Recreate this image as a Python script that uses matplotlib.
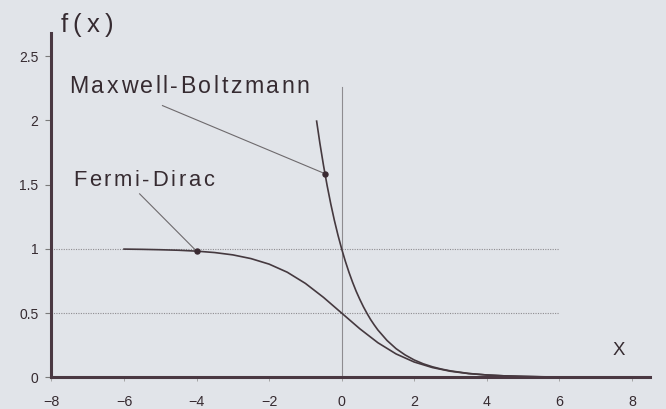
import matplotlib
matplotlib.use("Agg")
import matplotlib.pyplot as plt
from matplotlib.font_manager import FontProperties
from matplotlib.transforms import offset_copy

# Fermi-Dirac occupation f(x) = 1 / (1 + e^x)
fd_x = [-6.0, -5.5, -5.0, -4.5, -4.0, -3.5, -3.0, -2.5, -2.0, -1.5, -1.0, -0.5,
        0.0, 0.5, 1.0, 1.5, 2.0, 2.5, 3.0, 3.5, 4.0, 4.5, 5.0, 5.5, 6.0, 6.5,
        7.0, 7.5, 8.0]
fd_y = [0.998, 0.996, 0.993, 0.989, 0.982, 0.971, 0.953, 0.924, 0.881, 0.818,
        0.731, 0.622, 0.500, 0.378, 0.269, 0.182, 0.119, 0.076, 0.047, 0.029,
        0.018, 0.011, 0.007, 0.004, 0.002, 0.0015, 0.0009, 0.0006, 0.0003]

# Maxwell-Boltzmann occupation f(x) = e^-x
mb_x = [-0.69, -0.6, -0.5, -0.4, -0.3, -0.2, -0.1, 0.0, 0.1, 0.2, 0.3, 0.4,
        0.5, 0.6, 0.7, 0.8, 0.9, 1.0, 1.25, 1.5, 1.75, 2.0, 2.25, 2.5, 2.75,
        3.0, 3.5, 4.0, 4.5, 5.0, 5.5, 6.0, 6.5, 7.0, 7.5, 8.0]
mb_y = [1.994, 1.822, 1.649, 1.492, 1.350, 1.221, 1.105, 1.000, 0.905, 0.819,
        0.741, 0.670, 0.607, 0.549, 0.497, 0.449, 0.407, 0.368, 0.287, 0.223,
        0.174, 0.135, 0.105, 0.082, 0.064, 0.050, 0.030, 0.018, 0.011, 0.007,
        0.004, 0.0025, 0.0015, 0.0009, 0.0006, 0.0003]

# labelled points and where their captions sit
mb_point = (-0.46, 1.585)
fd_point = (-4.0, 0.982)
mb_label = "Maxwell-Boltzmann"
fd_label = "Fermi-Dirac"
mb_label_pos = (-7.50, 2.214)
fd_label_pos = (-7.41, 1.486)
mb_leader_start = (-4.94, 2.115)
fd_leader_start = (-5.57, 1.428)

x_ticks = [-8, -6, -4, -2, 0, 2, 4, 6, 8]
y_ticks = [0, 0.5, 1, 1.5, 2, 2.5]
y_tick_labels = ["0", "0.5", "1", "1.5", "2", "2.5"]
ref_levels = [0.5, 1.0]

BG = "#e1e4e9"
INK = "#362b31"
AXIS = "#4a3842"
GUIDE = "#8e8c90"
CURVE = "#45393f"
FONT = "Liberation Sans"
DPI = 100

fig = plt.figure(figsize=(6.66, 4.09), dpi=DPI, facecolor=BG)
ax = fig.add_axes([0.0773, 0.0775, 0.8986, 0.8418], facecolor=BG)
ax.set_xlim(-8, 8.5)
ax.set_ylim(0, 2.68)

for s in ("top", "right"):
    ax.spines[s].set_visible(False)
for s in ("left", "bottom"):
    ax.spines[s].set_linewidth(2.2)
    ax.spines[s].set_color(AXIS)
    ax.spines[s].set_zorder(5)

ax.set_xticks(x_ticks)
ax.set_yticks(y_ticks)
ax.set_xticklabels([str(t).replace("-", "\u2212") for t in x_ticks])
ax.set_yticklabels(y_tick_labels)
ax.tick_params(axis="x", length=3, width=0.6, color="#9a9a9a", pad=9.5,
               labelsize=10.3, labelcolor=INK)
ax.tick_params(axis="y", length=4.5, width=0.8, color="#7a7a7a", pad=5,
               labelsize=10, labelcolor=INK)
for lab in ax.get_xticklabels() + ax.get_yticklabels():
    lab.set_fontfamily(FONT)

# dotted reference levels and the x = 0 guide
for lvl in ref_levels:
    ax.plot([-8, 6], [lvl, lvl], ls=(0, (1, 1.2)), lw=0.8, color=GUIDE, zorder=1)
ax.plot([0, 0], [0, 2.26], lw=0.8, color=GUIDE, zorder=1)

# the two distributions
ax.plot(fd_x, fd_y, color=CURVE, lw=1.2, zorder=3, clip_on=False)
ax.plot(mb_x, mb_y, color=CURVE, lw=1.2, zorder=3, clip_on=False)

# leader lines and marked points
ax.plot([mb_leader_start[0], mb_point[0]], [mb_leader_start[1], mb_point[1]],
        lw=0.8, color="#6e6a6d", zorder=2)
ax.plot([fd_leader_start[0], fd_point[0]], [fd_leader_start[1], fd_point[1]],
        lw=0.8, color="#6e6a6d", zorder=2)
ax.plot(*mb_point, "o", ms=3.6, color="#3a2a32", zorder=4)
ax.plot(*fd_point, "o", ms=3.6, color="#3a2a32", zorder=4)

renderer = fig.canvas.get_renderer()


def spaced_text(x, y, s, size, track_px, transform=None):
    """Draw s with extra letter spacing (track_px pixels between glyphs)."""
    prop = FontProperties(family=FONT, size=size)
    base = transform if transform is not None else ax.transData
    for i, ch in enumerate(s):
        w = renderer.get_text_width_height_descent(s[:i], prop, ismath=False)[0] if i else 0.0
        off = (w + i * track_px) * 72.0 / DPI
        tr = offset_copy(base, fig=fig, x=off, y=0, units="points")
        ax.text(x, y, ch, transform=tr, fontproperties=prop, color=INK,
                ha="left", va="baseline", clip_on=False)


spaced_text(*mb_label_pos, mb_label, 16.7, 2.5)
spaced_text(*fd_label_pos, fd_label, 15.8, 2.7)
spaced_text(-7.75, 2.686, "f(x)", 18.5, 5.0)
spaced_text(7.46, 0.174, "X", 13.4, 0.0)

fig.savefig("out.png", dpi=DPI, facecolor=BG)
